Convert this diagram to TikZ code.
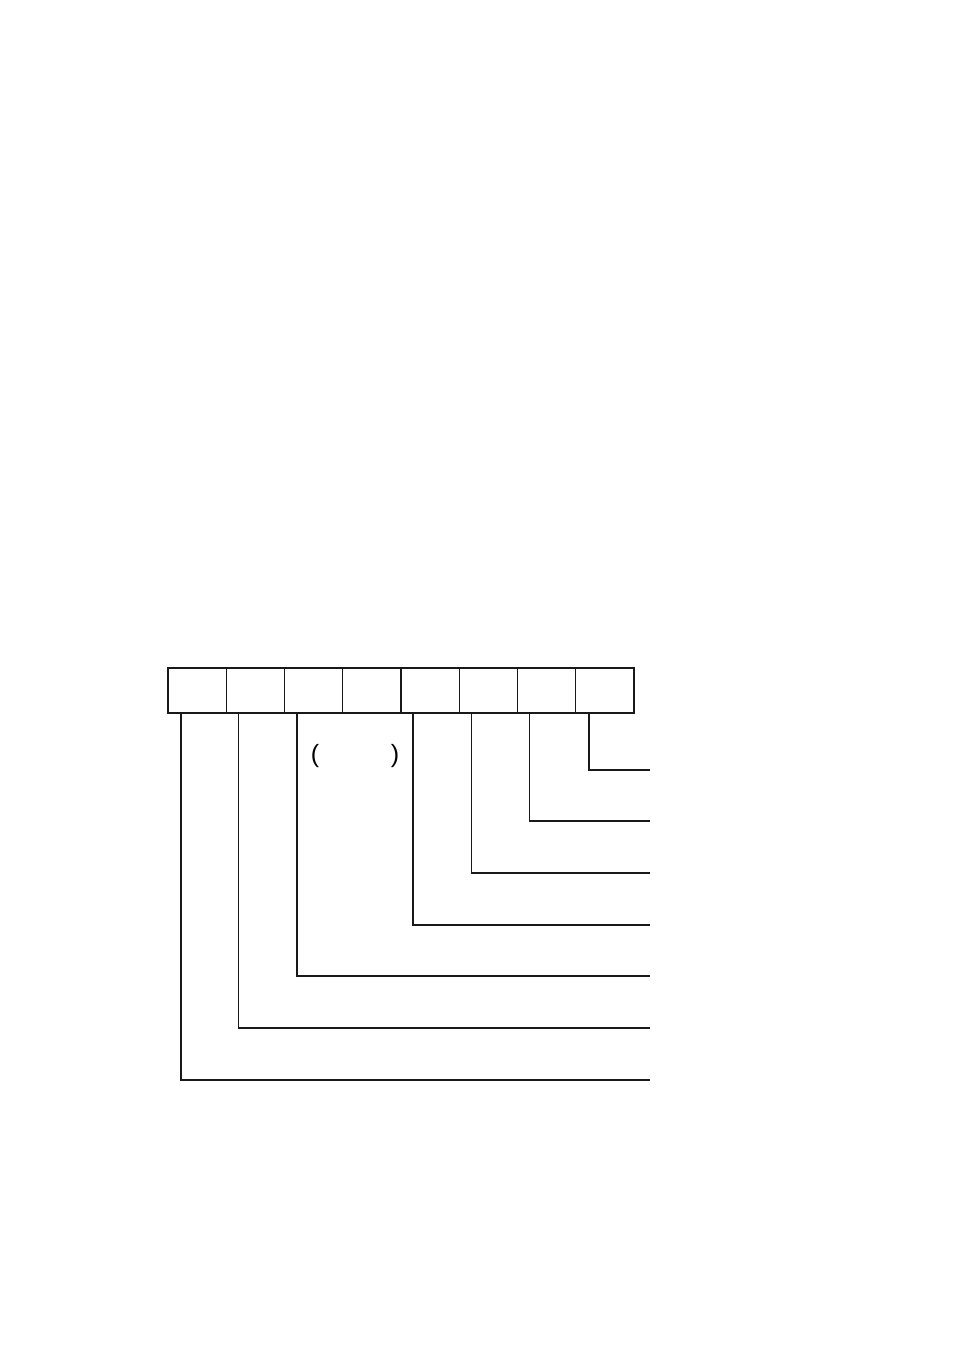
\documentclass[tikz,border=0pt]{standalone}
\usepackage{fontspec}
\setmainfont{Liberation Sans}
\usetikzlibrary{positioning}

\begin{document}
\begin{tikzpicture}[
    x=1pt, y=-1pt,
    every node/.style={font=\fontsize{25}{30}\selectfont},
    cell/.style={draw=black!90, line width=1.3pt, minimum width=58.25pt, minimum height=45pt, inner sep=0pt, outer sep=0pt},
    lead/.style={draw=black!90, line width=1.3pt},
    leadthick/.style={draw=black!90, line width=2pt}
]
\useasboundingbox (0,0) rectangle (954,1355);

% Register cells, left to right
\node[cell, anchor=north west] (cell1) at (168,668) {};
\foreach \i [remember=\i as \j (initially 1)] in {2,...,8} {
    \node[cell, right=0pt of cell\j] (cell\i) {};
}

% Free ends of the leads
\def\leadend{650}
\foreach \i/\yy in {8/770, 7/821, 6/873, 5/925, 3/976, 2/1028, 1/1080} {
    \coordinate (end\i) at (\leadend, \yy);
}

% Leads from the cells
\draw[leadthick] ([xshift=13pt]cell8.south west) |- (end8);
\draw[lead] ([xshift=12pt]cell7.south west) |- (end7);
\draw[lead] ([xshift=12pt]cell6.south west) |- (end6);
\draw[leadthick] ([xshift=12pt]cell5.south west) |- (end5);
\draw[lead] ([xshift=12.5pt]cell3.south west) |- (end3);
\draw[lead] ([xshift=12pt]cell2.south west) |- (end2);
\draw[leadthick] ([xshift=13pt]cell1.south west) |- (end1);

% Bracket marks for the two-cell field
\node (lparen) at (315,756) {(};
\node (rparen) at (395,756) {)};

\end{tikzpicture}
\end{document}
